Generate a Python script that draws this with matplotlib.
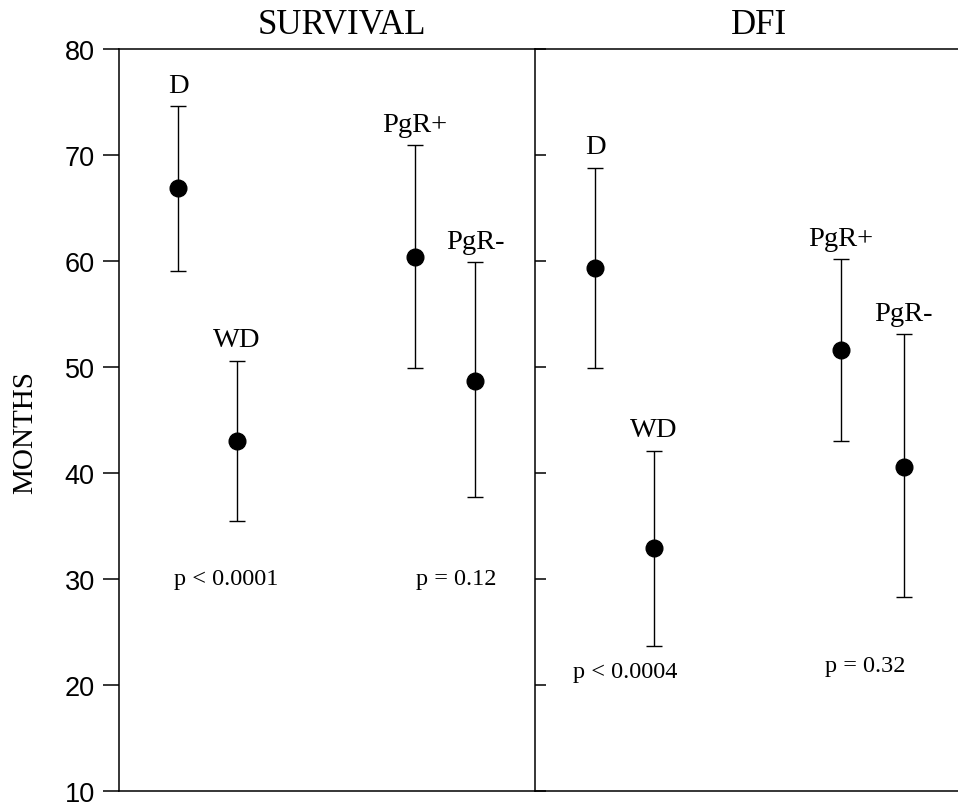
import matplotlib
matplotlib.use("Agg")
import matplotlib.pyplot as plt

# ---- data ----
groups = ["D", "WD", "PgR+", "PgR-"]
surv_mean = [66.9, 43.0, 60.4, 48.7]
surv_low = [59.1, 35.5, 49.9, 37.7]
surv_high = [74.6, 50.6, 70.9, 59.9]
dfi_mean = [59.3, 32.9, 51.6, 40.6]
dfi_low = [49.9, 23.7, 43.0, 28.3]
dfi_high = [68.8, 42.1, 60.2, 53.1]
panel_titles = ["SURVIVAL", "DFI"]
surv_p = ["p < 0.0001", "p = 0.12"]
surv_p_y = [30.0, 30.0]
dfi_p = ["p < 0.0004", "p = 0.32"]
dfi_p_y = [21.3, 21.8]
yticks = [10, 20, 30, 40, 50, 60, 70, 80]

# layout positions (fraction of panel width)
surv_x = [0.142, 0.284, 0.712, 0.856]
dfi_x = [0.142, 0.281, 0.723, 0.872]
surv_p_x = [0.258, 0.81]
dfi_p_x = [0.213, 0.78]

SERIF = "Liberation Serif"
SANS = "Liberation Sans"

W, H = 958, 803
fig = plt.figure(figsize=(W / 100, H / 100), dpi=100)
L, R, T, B, MID = 119, 958, 50, 792, 535
ax1 = fig.add_axes([L / W, (H - B) / H, (MID - L) / W, (B - T) / H])
ax2 = fig.add_axes([MID / W, (H - B) / H, (R - MID) / W, (B - T) / H])

for ax in (ax1, ax2):
    ax.set_xlim(0, 1)
    ax.set_ylim(10, 80)
    ax.set_xticks([])
    ax.spines["right"].set_visible(False)
    for s in ("left", "top", "bottom"):
        ax.spines[s].set_linewidth(1.1)
    ax.set_yticks(yticks)

ax1.tick_params(axis="y", direction="out", length=11.5, width=1.1, pad=6)
ax1.set_yticklabels([str(v) for v in yticks], fontfamily=SANS, fontsize=19.5)
ax2.tick_params(axis="y", direction="in", length=8, width=1.1, labelleft=False)
ax1.set_ylabel("MONTHS", fontfamily=SERIF, fontsize=21)
ax1.yaxis.set_label_coords(-0.195, 0.485)


def draw(ax, xs, means, lows, highs):
    for x, m, lo, hi, name in zip(xs, means, lows, highs, groups):
        ax.errorbar([x], [m], yerr=[[m - lo], [hi - m]], fmt="o", color="black",
                    markersize=12, elinewidth=1.0, capsize=6, capthick=1.0)
        ax.annotate(name, (x, hi), xytext=(0, 6), textcoords="offset points",
                    ha="center", va="bottom", fontfamily=SERIF, fontsize=20.5)


draw(ax1, surv_x, surv_mean, surv_low, surv_high)
draw(ax2, dfi_x, dfi_mean, dfi_low, dfi_high)

for x, y, t in zip(surv_p_x, surv_p_y, surv_p):
    ax1.text(x, y, t, ha="center", va="center", fontfamily=SERIF, fontsize=17.5)
for x, y, t in zip(dfi_p_x, dfi_p_y, dfi_p):
    ax2.text(x, y, t, ha="center", va="center", fontfamily=SERIF, fontsize=17.5)

ax1.annotate(panel_titles[0], (0.535, 1.0), xycoords="axes fraction",
             xytext=(0, 6), textcoords="offset points", ha="center",
             va="bottom", fontfamily=SERIF, fontsize=25)
ax2.annotate(panel_titles[1], (0.53, 1.0), xycoords="axes fraction",
             xytext=(0, 6), textcoords="offset points", ha="center",
             va="bottom", fontfamily=SERIF, fontsize=25)

fig.savefig("out.png", dpi=100)
